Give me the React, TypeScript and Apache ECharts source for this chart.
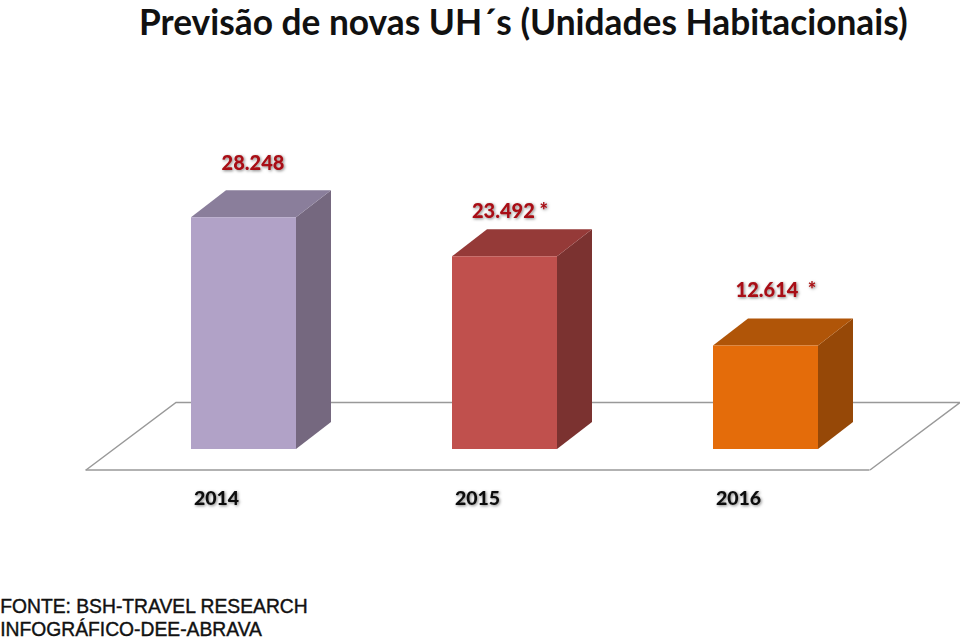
import React, { useEffect, useRef } from "react";
import * as echarts from "echarts";

const categories = ["2014", "2015", "2016"];
const values = [28248, 23492, 12614];
const valueLabels = ["28.248", "23.492 *", "12.614  *"];
const titleText = "Previsão de novas UH´s (Unidades Habitacionais)";
const footerLines = ["FONTE: BSH-TRAVEL RESEARCH", "INFOGRÁFICO-DEE-ABRAVA"];

const palette = [
  { front: "#B1A2C7", top: "#8A7E9B", side: "#75687F" },
  { front: "#C0504D", top: "#953A38", side: "#7B3230" },
  { front: "#E46C0A", top: "#B05508", side: "#964807" },
];
const labelLift = [55, 46, 57];
const labelShift = [9.5, 5.5, 10.5];

const FLOOR_DX = 27;
const FLOOR_DY = 21;
const DEPTH_X = 35;
const DEPTH_Y = 27;
const HALF_W = 52.5;
const FONT = "Lato, Carlito, sans-serif";
const SHADOW = { textShadowColor: "rgba(0,0,0,0.5)", textShadowBlur: 3, textShadowOffsetX: 1, textShadowOffsetY: 1 };

function renderBox(params: any, api: any) {
  const i = api.value(0);
  const base = api.coord([i, 0]);
  const peak = api.coord([i, api.value(1)]);
  const cx = base[0] + FLOOR_DX;
  const l = cx - HALF_W;
  const r = cx + HALF_W;
  const b = base[1] - FLOOR_DY;
  const t = peak[1] - FLOOR_DY;
  const c = palette[i];
  return {
    type: "group",
    children: [
      {
        type: "polygon",
        shape: { points: [[r, t], [r + DEPTH_X, t - DEPTH_Y], [r + DEPTH_X, b - DEPTH_Y], [r, b]] },
        style: { fill: c.side },
      },
      {
        type: "polygon",
        shape: { points: [[l, t], [l + DEPTH_X, t - DEPTH_Y], [r + DEPTH_X, t - DEPTH_Y], [r, t]] },
        style: { fill: c.top },
      },
      { type: "rect", shape: { x: l, y: t, width: r - l, height: b - t }, style: { fill: c.front } },
      {
        type: "text",
        style: {
          x: cx + labelShift[i],
          y: t - labelLift[i],
          text: valueLabels[i],
          align: "center",
          verticalAlign: "middle",
          fill: "#A80F14",
          font: `900 20px ${FONT}`,
          ...SHADOW,
        },
      },
    ],
  };
}

export default function App() {
  const ref = useRef<HTMLDivElement>(null);
  useEffect(() => {
    document.body.style.margin = "0";
    const chart = echarts.init(ref.current!, undefined, { renderer: "svg" });
    chart.setOption({
      animation: false,
      backgroundColor: "#ffffff",
      title: {
        text: titleText,
        left: 134,
        top: -1,
        textStyle: { fontFamily: FONT, fontWeight: "bold", fontSize: 35.3, color: "#111111" },
      },
      grid: { left: 86, width: 783, top: 224, height: 246 },
      xAxis: {
        type: "category",
        data: categories,
        axisLine: { show: true, lineStyle: { color: "#999999", width: 1.5 } },
        axisTick: { show: false },
        axisLabel: {
          margin: 17,
          fontFamily: FONT,
          fontWeight: 900,
          fontSize: 19.5,
          color: "#111111",
          ...SHADOW,
        },
      },
      yAxis: { type: "value", min: 0, max: 30000, show: false },
      graphic: [
        {
          type: "polyline",
          z: 0,
          shape: { points: [[86, 470], [176, 402.5], [960, 402.5], [870, 470]] },
          style: { fill: "none", stroke: "#999999", lineWidth: 1.5 },
        },
        ...footerLines.map((t, i) => ({
          type: "text",
          left: 0,
          top: 597 + i * 22.5,
          style: {
            text: t,
            fill: "#111111",
            stroke: "#111111",
            lineWidth: 0.4,
            font: "19.3px 'Liberation Sans', Arial, sans-serif",
          },
        })),
      ],
      series: [
        {
          type: "custom",
          z: 5,
          clip: false,
          renderItem: renderBox,
          encode: { x: 0, y: 1 },
          data: values.map((v, i) => [i, v]),
        },
      ],
    });
    return () => chart.dispose();
  }, []);
  return <div ref={ref} style={{ width: 960, height: 638 }} />;
}
